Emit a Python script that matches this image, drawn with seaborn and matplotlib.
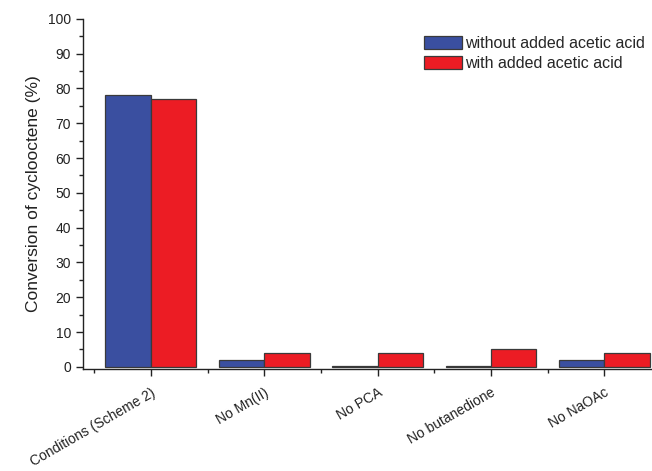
import matplotlib
matplotlib.use("Agg")
import matplotlib.pyplot as plt
import seaborn as sns
import pandas as pd
from matplotlib.ticker import MultipleLocator, FixedLocator

sns.set_style("ticks")
plt.rcParams["font.family"] = ["Liberation Sans", "DejaVu Sans"]

conditions = ["Conditions (Scheme 2)", "No Mn(II)", "No PCA", "No butanedione", "No NaOAc"]
series_names = ["without added acetic acid", "with added acetic acid"]
without_acid = [78, 2, 0.3, 0.3, 2]
with_acid = [77, 4, 4, 5, 4]

df = pd.DataFrame({
    "condition": conditions * 2,
    "series": [series_names[0]] * len(conditions) + [series_names[1]] * len(conditions),
    "conversion": without_acid + with_acid,
})

fig = plt.figure(figsize=(6.52, 4.71), dpi=100)
ax = fig.add_axes([0.127, 0.2166, 0.873, 0.7434])

sns.barplot(data=df, x="condition", y="conversion", hue="series",
            palette=["#3a4fa0", "#ec1c24"], width=0.8, edgecolor="#3a3a3a",
            linewidth=0.9, saturation=1, errorbar=None, ax=ax)

ax.set_xlim(-0.6, 4.42)
ax.set_ylim(-0.6, 100)
ax.yaxis.set_major_locator(MultipleLocator(10))
ax.yaxis.set_minor_locator(MultipleLocator(5))
ax.xaxis.set_minor_locator(FixedLocator([i - 0.5 for i in range(len(conditions))]))

for side in ("top", "right"):
    ax.spines[side].set_visible(False)
for side in ("left", "bottom"):
    ax.spines[side].set_linewidth(1.0)
    ax.spines[side].set_color("#222222")

ax.tick_params(axis="both", which="major", direction="out", length=5, width=1.0,
               color="#222222", labelsize=10, labelcolor="#222222")
ax.tick_params(axis="both", which="minor", direction="out", length=3, width=1.0,
               color="#222222")
ax.tick_params(axis="x", which="major", pad=7)

ax.set_xticks(range(len(conditions)))
ax.set_xticklabels(conditions, rotation=30, ha="right", rotation_mode="anchor",
                   fontsize=10)
ax.set_xlabel("")
ax.set_ylabel("Conversion of cyclooctene (%)", fontsize=12.5, color="#222222", labelpad=5)

leg = ax.legend(loc="upper left", bbox_to_anchor=(424 / 652, 1 - 36 / 471),
                bbox_transform=fig.transFigure, frameon=False,
                fontsize=11.5, handlelength=2.4, handleheight=0.9,
                handletextpad=0.2, labelspacing=0.3, borderpad=0, borderaxespad=0)

fig.savefig("out.png", dpi=100, facecolor="white")
